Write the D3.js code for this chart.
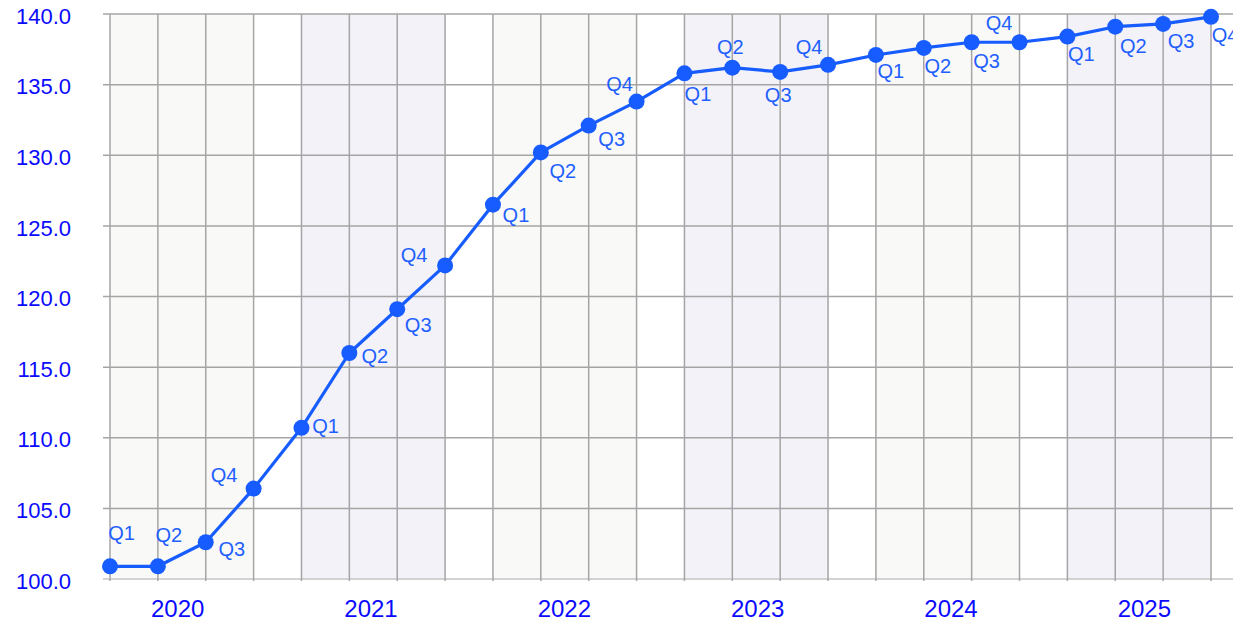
<!DOCTYPE html>
<html>
<head>
<meta charset="utf-8">
<script src="https://cdn.jsdelivr.net/npm/d3@7"></script>
<style>
  body { margin: 0; background: #fff; }
  svg { display: block; font-family: "Liberation Sans", Arial, sans-serif; }
</style>
</head>
<body>
<svg id="chart"></svg>
<script>
const years = ['2020', '2021', '2022', '2023', '2024', '2025'];
const quarters = ['Q1', 'Q2', 'Q3', 'Q4'];
const values = [
  100.9, 100.9, 102.6, 106.4,
  110.7, 116.0, 119.1, 122.2,
  126.5, 130.2, 132.1, 133.8,
  135.8, 136.2, 135.9, 136.4,
  137.1, 137.6, 138.0, 138.0,
  138.4, 139.1, 139.3, 139.8
];
const yTicks = [100, 105, 110, 115, 120, 125, 130, 135, 140];

// label placement around each point (centre offset)
const labelOffsets = [
  [11.5, -33], [11, -31], [26, 7], [-29.5, -13],
  [24, -2], [25.5, 3.5], [21, 15.5], [-31, -10.5],
  [23, 11], [22, 18.5], [23, 14], [-17, -17],
  [13.5, 21], [-2, -20.5], [-2, 23], [-19, -18],
  [15, 16], [14, 18], [15, 19], [-20.5, -19],
  [14, 18], [18, 19], [18, 17], [14, 18]
]

const width = 1233, height = 623;
const margin = {top: 14, right: 0, bottom: 44, left: 103};

const points = values.map((v, i) => ({
  i, value: v,
  year: years[Math.floor(i / 4)],
  q: quarters[i % 4]
}));

const svg = d3.select('#chart')
  .attr('width', width)
  .attr('height', height);

const x = d3.scaleLinear()
  .domain([0, points.length - 1])
  .range([110, 1211]);

const y = d3.scaleLinear()
  .domain([100, 140])
  .range([height - margin.bottom, margin.top]);

const yearX = d3.scaleBand()
  .domain(years)
  .range([81, 1241]);

// shaded bands, Q1..Q4 of each year
svg.append('g')
  .selectAll('rect')
  .data(years)
  .join('rect')
    .attr('x', (d, k) => x(k * 4))
    .attr('y', y(140))
    .attr('width', x(3) - x(0))
    .attr('height', y(100) - y(140))
    .attr('fill', (d, k) => k % 2 === 0 ? '#f9f9f7' : '#f2f2f8');

// horizontal grid
svg.append('g')
  .selectAll('line')
  .data(yTicks)
  .join('line')
    .attr('x1', margin.left)
    .attr('x2', width)
    .attr('y1', d => y(d))
    .attr('y2', d => y(d))
    .attr('stroke', d => d === 100 ? '#c4c4c4' : '#a5a5a5')
    .attr('stroke-width', 1.5);

// vertical grid
svg.append('g')
  .selectAll('line')
  .data(points)
  .join('line')
    .attr('x1', d => x(d.i))
    .attr('x2', d => x(d.i))
    .attr('y1', y(140))
    .attr('y2', y(100) + 2)
    .attr('stroke', '#a5a5a5')
    .attr('stroke-width', 1.5);

// y tick labels
svg.append('g')
  .selectAll('text')
  .data(yTicks)
  .join('text')
    .attr('x', 71)
    .attr('y', d => y(d) + 2)
    .attr('dy', '0.35em')
    .attr('text-anchor', 'end')
    .attr('fill', '#0a0aff')
    .style('font-size', '22px')
    .text(d => d.toFixed(1));

// year labels
svg.append('g')
  .selectAll('text')
  .data(years)
  .join('text')
    .attr('x', d => yearX(d) + yearX.bandwidth() / 2)
    .attr('y', 617)
    .attr('text-anchor', 'middle')
    .attr('fill', '#0a0aff')
    .style('font-size', '24px')
    .text(d => d);

// line
const line = d3.line()
  .x(d => x(d.i))
  .y(d => y(d.value));

svg.append('path')
  .datum(points)
  .attr('fill', 'none')
  .attr('stroke', '#175cff')
  .attr('stroke-width', 3.2)
  .attr('stroke-linejoin', 'round')
  .attr('d', line);

svg.append('g')
  .selectAll('circle')
  .data(points)
  .join('circle')
    .attr('cx', d => x(d.i))
    .attr('cy', d => y(d.value))
    .attr('r', 8)
    .attr('fill', '#175cff');

// quarter labels
svg.append('g')
  .selectAll('text')
  .data(points)
  .join('text')
    .attr('x', d => x(d.i) + labelOffsets[d.i][0])
    .attr('y', d => y(d.value) + labelOffsets[d.i][1])
    .attr('dy', '0.34em')
    .attr('text-anchor', 'middle')
    .attr('fill', '#1f5fff')
    .style('font-size', '20px')
    .text(d => d.q);
</script>
</body>
</html>
